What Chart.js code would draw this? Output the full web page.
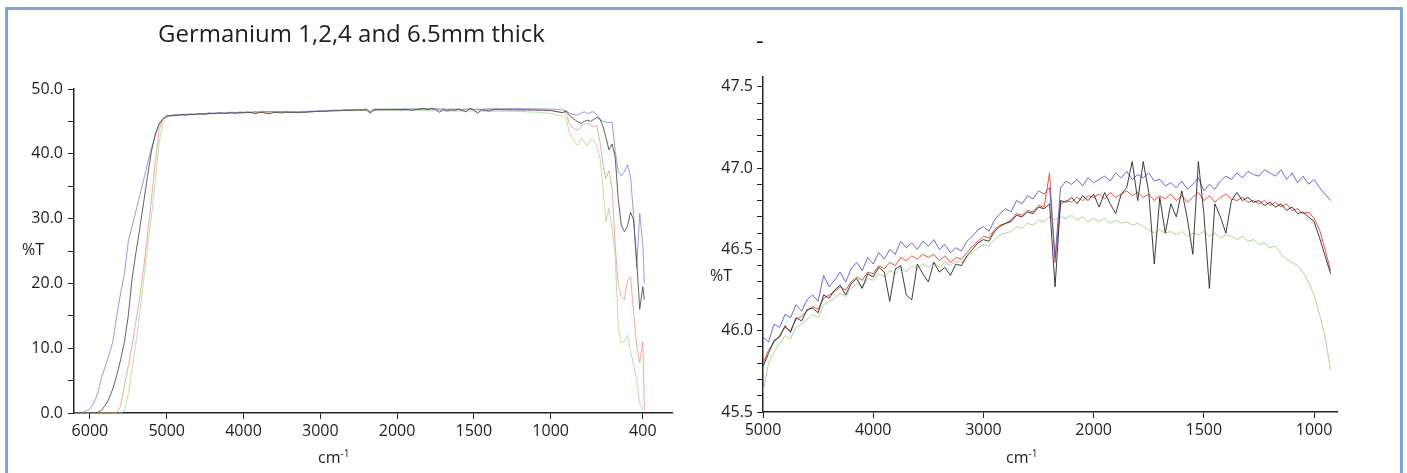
<!DOCTYPE html>
<html><head><meta charset="utf-8">
<script src="https://cdn.jsdelivr.net/npm/chart.js@4/dist/chart.umd.min.js"></script>
<style>
html,body{margin:0;padding:0;background:#fff;}
body{width:1407px;height:473px;overflow:hidden;position:relative;font-family:"Open Sans",sans-serif;color:#1e1e1e;}
#frame{position:absolute;left:5px;top:7px;width:1392px;height:490px;border:3px solid #7ea6d8;}
.cw{position:absolute;top:0;}
.t{position:absolute;white-space:nowrap;line-height:1;}
.t sup{font-size:10px;vertical-align:6px;line-height:0;}
</style></head><body>
<div id="frame"></div>
<div class="cw" style="left:0;width:700px;height:473px;"><canvas id="c1" width="700" height="473"></canvas></div>
<div class="cw" style="left:700px;width:707px;height:473px;"><canvas id="c2" width="707" height="473"></canvas></div>
<div class="t" style="left:158px;top:21px;font-size:24px;">Germanium 1,2,4 and 6.5mm thick</div>
<div class="t" style="left:756px;top:28px;font-size:24px;">-</div>
<div class="t" style="left:22px;top:241px;font-size:16px;">%T</div>
<div class="t" style="left:710px;top:267px;font-size:16px;">%T</div>
<div class="t" style="left:318px;top:449px;font-size:16px;">cm<sup>-1</sup></div>
<div class="t" style="left:1006px;top:449px;font-size:16px;">cm<sup>-1</sup></div>
<script>
// ---- data (wavenumber in cm-1, transmission in %T) ----
const edgeWn = [6200,6150,6100,6050,6000,5950,5900,5850,5800,5750,5700,5650,5600,5550,5500,5450,5400,5350,5300,5250,5200,5150,5100,5050];
const blueEdge  = [0.0,0.0,0.1,0.3,0.6,1.5,3.0,5.4,7.2,9.0,11.0,15.0,18.5,21.5,26.5,28.8,31.2,33.6,36.0,38.5,40.8,42.8,44.4,45.4];
const blackEdge = [0,0,0,0,0,0,0.1,0.4,1.2,2.2,3.8,5.8,8.2,11.0,15.0,20.8,24.8,28.5,32.5,36.5,40.3,43.0,44.6,45.4];
const redEdge   = [0,0,0,0,0,0,0,0,0,0,0,0.1,1.0,4.2,7.2,10.4,14.2,18.0,22.4,27.5,32.8,38.5,43.6,45.3];
const greenEdge = [0,0,0,0,0,0,0,0,0,0,0,0,0,0.3,3.0,6.8,10.8,15.5,20.5,25.5,30.2,35.5,41.5,44.8];

const plateauWn = [5000,4950,4900,4850,4800,4750,4700,4650,4600,4550,
  4500,4450,4400,4350,4300,4250,4200,4150,4100,4050,
  4000,3950,3900,3850,3800,3750,3700,3650,3600,3550,
  3500,3450,3400,3350,3300,3250,3200,3150,3100,3050,
  3000,2950,2900,2850,2800,2750,2700,2650,2600,2550,
  2500,2450,2400,2350,2300,2250,2200,2150,2100,2050,
  2000,1975,1950,1925,1900,1875,1850,1825,1800,1775,
  1750,1725,1700,1675,1650,1625,1600,1575,1550,1525,
  1500,1475,1450,1425,1400,1375,1350,1325,1300,1275,
  1250,1225,1200,1175,1150,1125,1100,1075,1050,1025,
  1000,975,950,925];
const bluePlateau = [45.96,45.93,46.04,46.02,46.10,46.08,46.16,46.12,46.19,46.22,
  46.18,46.34,46.27,46.31,46.36,46.30,46.38,46.42,46.37,46.45,
  46.41,46.48,46.44,46.50,46.47,46.55,46.51,46.54,46.50,46.55,
  46.52,46.56,46.50,46.53,46.48,46.51,46.49,46.55,46.58,46.62,
  46.64,46.61,46.68,46.72,46.75,46.73,46.80,46.78,46.83,46.81,
  46.86,46.84,46.88,46.45,46.88,46.92,46.90,46.93,46.89,46.94,
  46.91,46.93,46.95,46.92,46.97,46.94,46.98,46.93,46.96,46.94,
  46.97,46.92,46.93,46.89,46.91,46.88,46.92,46.87,46.90,46.94,
  46.86,46.90,46.87,46.92,46.95,46.93,46.97,46.94,46.98,46.96,
  46.95,46.99,46.97,46.95,46.99,46.93,46.97,46.91,46.95,46.90,
  46.93,46.88,46.84,46.80];
const redPlateau = [45.80,45.88,45.93,45.97,46.02,46.00,46.07,46.09,46.12,46.15,
  46.13,46.20,46.22,46.24,46.27,46.25,46.30,46.33,46.31,46.36,
  46.35,46.40,46.38,46.42,46.40,46.45,46.43,46.46,46.44,46.47,
  46.45,46.47,46.43,46.46,46.42,46.45,46.44,46.48,46.52,46.55,
  46.58,46.57,46.62,46.65,46.66,46.68,46.72,46.71,46.74,46.73,
  46.77,46.76,46.97,46.42,46.78,46.80,46.79,46.82,46.80,46.83,
  46.82,46.84,46.81,46.85,46.82,46.84,46.86,46.83,46.85,46.82,
  46.84,46.80,46.83,46.81,46.84,46.80,46.83,46.79,46.82,46.85,
  46.80,46.83,46.79,46.82,46.84,46.81,46.80,46.82,46.79,46.80,
  46.78,46.80,46.77,46.79,46.76,46.78,46.74,46.75,46.72,46.73,
  46.69,46.62,46.50,46.37];
const greenPlateau = [45.62,45.80,45.87,45.92,45.97,45.95,46.02,46.04,46.07,46.10,
  46.08,46.16,46.18,46.20,46.23,46.21,46.26,46.29,46.27,46.32,
  46.31,46.35,46.33,46.37,46.35,46.39,46.36,46.40,46.38,46.41,
  46.39,46.42,46.39,46.42,46.40,46.43,46.42,46.45,46.48,46.51,
  46.53,46.52,46.56,46.59,46.60,46.61,46.64,46.63,46.66,46.65,
  46.68,46.67,46.70,46.68,46.70,46.69,46.71,46.68,46.70,46.67,
  46.69,46.67,46.69,46.66,46.68,46.66,46.67,46.65,46.66,46.64,
  46.62,46.60,46.62,46.60,46.61,46.59,46.61,46.58,46.60,46.59,
  46.61,46.58,46.60,46.57,46.59,46.58,46.56,46.58,46.55,46.56,
  46.53,46.54,46.51,46.52,46.47,46.44,46.42,46.40,46.36,46.30,
  46.22,46.10,45.96,45.76];
const blackPlateau = [45.78,45.86,45.94,45.96,46.03,45.99,46.08,46.06,46.13,46.14,
  46.11,46.22,46.20,46.25,46.28,46.22,46.29,46.32,46.26,46.35,
  46.33,46.39,46.36,46.18,46.38,46.40,46.22,46.19,46.41,46.35,
  46.30,46.42,46.36,46.39,46.34,46.41,46.40,46.46,46.50,46.54,
  46.56,46.55,46.61,46.64,46.66,46.67,46.71,46.70,46.73,46.72,
  46.76,46.75,46.78,46.27,46.80,46.79,46.82,46.78,46.83,46.80,
  46.84,46.76,46.85,46.78,46.72,46.84,46.88,47.04,46.80,47.04,
  46.85,46.41,46.82,46.60,46.78,46.70,46.86,46.69,46.47,47.04,
  46.72,46.26,46.78,46.70,46.60,46.80,46.85,46.80,46.82,46.79,
  46.80,46.77,46.79,46.76,46.78,46.74,46.76,46.72,46.73,46.70,
  46.67,46.57,46.46,46.35];

const tailWn = [900,880,860,840,820,800,780,760,740,720,700,680,660,640,620,600,580,560,540,520,500,480,460,440,420,400,390];
const blueTail  = [46.6,46.3,46.1,46.0,46.0,46.3,46.5,46.2,46.4,46.5,46.0,45.3,45.0,44.9,44.8,44.9,40.5,37.2,36.6,37.2,38.3,36.5,30.5,22.5,30.8,26.0,20.0];
const blackTail = [46.6,46.0,45.6,45.2,44.9,44.7,45.0,45.2,45.0,45.3,45.6,45.4,44.3,42.5,40.6,41.5,39.5,33.0,29.0,28.0,28.8,31.0,29.8,23.5,16.0,19.5,17.5];
const redTail   = [46.4,44.8,44.1,43.8,43.7,44.3,44.6,44.7,44.4,44.2,44.4,42.0,38.5,36.2,37.4,34.6,26.0,19.8,18.0,17.5,20.5,21.0,15.6,10.5,7.8,11.0,0.5];
const greenTail = [45.5,43.5,42.5,41.5,41.4,42.5,41.8,41.2,42.3,42.2,41.2,39.5,35.0,29.5,31.6,28.5,24.0,13.5,10.8,11.0,12.0,9.5,7.5,5.2,1.5,0.4,0.2];

const leftTicks  = [6000,5000,4000,3000,2000,1500,1000,400];
const rightTicks = [5000,4000,3000,2000,1500,1000];

// ---- x scale with FTIR scale change at 2000 cm-1 (x2 expansion below) ----
function fwd(w){ return w >= 2000 ? w : 2*w - 2000; }
function inv(p){ return p >= 2000 ? p : (p + 2000)/2; }
class FtirScale extends Chart.LinearScale {
  getPixelForValue(value){
    const a = fwd(this.min), b = fwd(this.max);
    return this.getPixelForDecimal((fwd(value) - a)/(b - a));
  }
  getValueForPixel(pixel){
    const a = fwd(this.min), b = fwd(this.max);
    return inv(a + this.getDecimalForPixel(pixel)*(b - a));
  }
}
FtirScale.id = 'ftir';
FtirScale.defaults = {};
Chart.register(FtirScale);

Chart.defaults.font.family = '"Open Sans", sans-serif';
Chart.defaults.font.size = 16;
Chart.defaults.color = '#1e1e1e';

function pts(xs, ys){ return xs.map((x,i)=>({x:x, y:ys[i]})); }
function ds(label, xs, ys, color){
  return {label, data: pts(xs, ys), borderColor: color, borderWidth: 1, pointRadius: 0, tension: 0, fill: false};
}

const allWn = edgeWn.concat(plateauWn, tailWn);
const leftSets = [
  ds('black', allWn, blackEdge.concat(blackPlateau, blackTail), 'rgba(70,70,70,0.85)'),
  ds('blue',  allWn, blueEdge.concat(bluePlateau, blueTail),  'rgba(120,120,215,0.75)'),
  ds('red',   allWn, redEdge.concat(redPlateau, redTail),    'rgba(240,140,120,0.75)'),
  ds('green', allWn, greenEdge.concat(greenPlateau, greenTail),'rgba(170,215,150,0.8)')
];
const rightSets = [
  ds('black', plateauWn, blackPlateau, 'rgba(40,40,40,0.9)'),
  ds('blue',  plateauWn, bluePlateau,  'rgba(80,80,200,0.85)'),
  ds('red',   plateauWn, redPlateau,   'rgba(225,55,30,0.85)'),
  ds('green', plateauWn, greenPlateau, 'rgba(160,205,130,0.85)')
];

function axisCommon(){
  return {
    grid: {display:true, drawOnChartArea:false, drawTicks:true, tickLength:6, color:'#222', lineWidth:1},
    border: {display:true, color:'#222', width:1.5}
  };
}

new Chart(document.getElementById('c1'), {
  type: 'line',
  data: {datasets: leftSets},
  options: {
    responsive:false, animation:false, events:[],
    layout: {padding:{top:89, right:28, left:0, bottom:0}},
    plugins: {legend:{display:false}, tooltip:{enabled:false}, title:{display:false}},
    scales: {
      x: Object.assign(axisCommon(), {
        type:'ftir', min:210, max:6207, reverse:true,
        afterBuildTicks: a => { a.ticks = leftTicks.map(v=>({value:v})); },
        afterFit: s => { s.height = 60; },
        ticks: {autoSkip:false, maxRotation:0, padding:3, callback: v => String(v)}
      }),
      y: Object.assign(axisCommon(), {
        type:'linear', min:0, max:50,
        afterFit: s => { s.width = 74; },
        ticks: {stepSize:5, padding:5, autoSkip:false, callback: v => (Math.round(v) % 10 === 0 ? Number(v).toFixed(1) : '')}
      })
    }
  }
});

new Chart(document.getElementById('c2'), {
  type: 'line',
  data: {datasets: rightSets},
  options: {
    responsive:false, animation:false, events:[],
    layout: {padding:{top:77, right:70, left:0, bottom:0}},
    plugins: {legend:{display:false}, tooltip:{enabled:false}, title:{display:false}},
    scales: {
      x: Object.assign(axisCommon(), {
        type:'ftir', min:896, max:5000, reverse:true,
        afterBuildTicks: a => { a.ticks = rightTicks.map(v=>({value:v})); },
        afterFit: s => { s.height = 61; },
        ticks: {autoSkip:false, maxRotation:0, padding:3, callback: v => String(v)}
      }),
      y: Object.assign(axisCommon(), {
        type:'linear', min:45.5, max:47.56,
        afterBuildTicks: a => { a.ticks = a.ticks.filter(t => t.value <= 47.5001); },
        afterFit: s => { s.width = 63; },
        ticks: {stepSize:0.1, includeBounds:false, padding:4, autoSkip:false, callback: v => {
          const d = v*2; return Math.abs(d - Math.round(d)) < 1e-6 ? Number(v).toFixed(1) : ''; }}
      })
    }
  }
});
</script>
</body></html>
